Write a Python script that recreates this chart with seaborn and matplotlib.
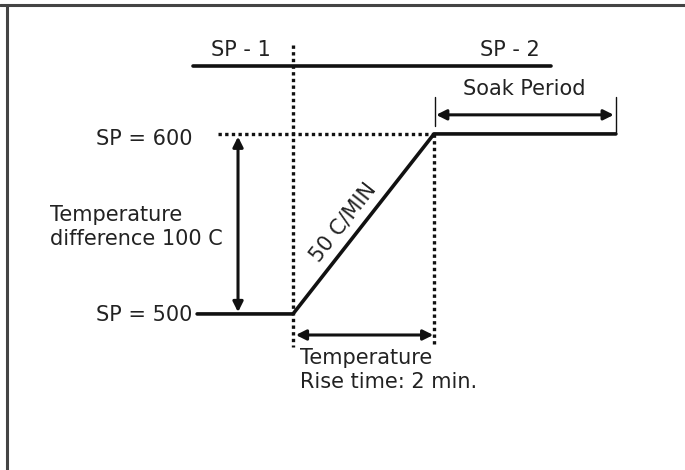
import matplotlib
matplotlib.use("Agg")
import matplotlib.pyplot as plt
import seaborn as sns

# ramp / soak profile (time in min, temperature in C)
profile_time = [-1.36, 0, 2, 4.58]
profile_temp = [500, 500, 600, 600]
sp_low = 500
sp_high = 600
ramp_rate = 50
rise_time = (sp_high - sp_low) / ramp_rate
soak_end = profile_time[-1]

sp_labels = ["SP - 1", "SP - 2"]
label_low = f"SP = {sp_low}"
label_high = f"SP = {sp_high}"
label_diff = f"Temperature\ndifference {sp_high - sp_low} C"
label_rate = f"{ramp_rate} C/MIN"
label_rise = f"Temperature\nRise time: {rise_time:g} min."
label_soak = "Soak Period"

sns.set_theme(style="white")
plt.rcParams["font.family"] = ["DejaVu Sans"]

ink = "#111111"
txt = "#222222"
fs = 15

fig = plt.figure(figsize=(6.85, 4.70), dpi=100)
ax = fig.add_axes([0, 0, 1, 1])
ax.set_xlim(-4.156, 5.560)
ax.set_ylim(413.3, 674.4)
ax.axis("off")

# main profile
sns.lineplot(x=profile_time, y=profile_temp, ax=ax, color=ink, lw=2.6,
             sort=False, estimator=None)

# SP band line at the top
band_y = 637.8
ax.plot([-1.418, 3.66], [band_y, band_y], color=ink, lw=2.6)

dots = (0, (1, 1))
# dotted guides
ax.plot([-1.064, rise_time], [sp_high, sp_high], color=ink, lw=2.4, ls=dots)
ax.plot([0, 0], [649.4, 481.7], color=ink, lw=2.4, ls=dots)
ax.plot([rise_time, rise_time], [sp_high, 481.7], color=ink, lw=2.4, ls=dots)

arrow = dict(arrowstyle="<|-|>", color=ink, lw=2.2, mutation_scale=15,
             shrinkA=0, shrinkB=0)
# temperature difference arrow
ax.annotate("", xy=(-0.78, sp_high - 1.5), xytext=(-0.78, sp_low + 1.0),
            arrowprops=arrow)
# rise time arrow
ax.annotate("", xy=(0.04, 488.3), xytext=(rise_time - 0.01, 488.3),
            arrowprops=arrow)
# soak period arrow with end ticks
ax.annotate("", xy=(rise_time + 0.03, 610.6), xytext=(soak_end - 0.03, 610.6),
            arrowprops=arrow)
ax.plot([rise_time + 0.01, rise_time + 0.01], [620.6, 604.4], color=ink, lw=1.0)
ax.plot([soak_end, soak_end], [620.6, 601.1], color=ink, lw=1.0)

# labels
ax.text(-0.74, 646.7, sp_labels[0], ha="center", va="center", fontsize=fs, color=txt)
ax.text(3.07, 646.7, sp_labels[1], ha="center", va="center", fontsize=fs, color=txt)
ax.text(3.28, 625.0, label_soak, ha="center", va="center", fontsize=fs, color=txt)
ax.text(-1.43, 597.0, label_high, ha="right", va="center", fontsize=fs, color=txt)
ax.text(-1.43, 499.4, label_low, ha="right", va="center", fontsize=fs, color=txt)
ax.text(-3.45, 548.3, label_diff, ha="left", va="center", fontsize=fs,
        color=txt, linespacing=1.2)
ax.text(0.10, 468.9, label_rise, ha="left", va="center", fontsize=fs,
        color=txt, linespacing=1.2)
ax.text(0.71, 550.8, label_rate, ha="center", va="center", fontsize=fs,
        color=txt, rotation=51.9, rotation_mode="anchor")

# frame: top and left border only
fig.add_artist(plt.Line2D([0, 1], [1 - 5 / 470, 1 - 5 / 470],
                          transform=fig.transFigure, color="#444444", lw=2.2))
fig.add_artist(plt.Line2D([7 / 685, 7 / 685], [0, 1 - 5 / 470],
                          transform=fig.transFigure, color="#444444", lw=2.2))

fig.savefig("out.png", dpi=100)
